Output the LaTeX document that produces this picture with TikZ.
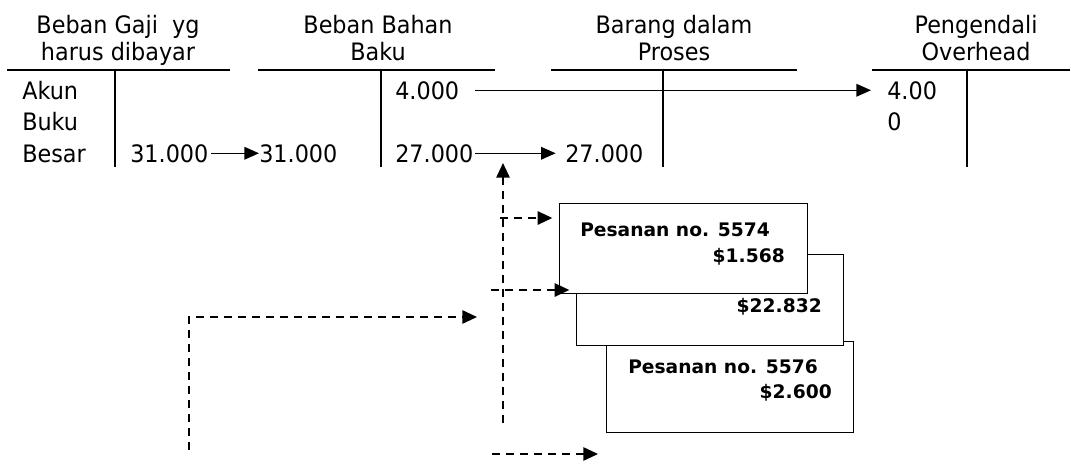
\documentclass[tikz,border=0pt]{standalone}
\usepackage{fontspec}
\setmainfont{DejaVu Sans}[FakeStretch=0.93]
\newfontfamily\jobfont{DejaVu Sans}
\usetikzlibrary{arrows.meta}

\tikzset{
  ledger/.style={line width=1pt},
  txt/.style={inner sep=0pt, anchor=base west, font=\fontsize{18pt}{20.25pt}\selectfont},
  title/.style={inner sep=0pt, anchor=base, align=center, font=\fontsize{18pt}{20.25pt}\selectfont},
  jobbox/.style={draw, fill=white, line width=1.1pt, anchor=north west, inner sep=0pt},
  jobtxt/.style={inner sep=0pt, font=\jobfont\bfseries\fontsize{14pt}{16pt}\selectfont},
  arr/.style={line width=1pt, -{Triangle[length=11pt,width=9.5pt]}},
  darr/.style={line width=1.3pt, dash pattern=on 6pt off 4.5pt, -{Triangle[length=11pt,width=10pt]}}
}

\begin{document}
\begin{tikzpicture}[x=0.75pt,y=-0.75pt]
\useasboundingbox (0,0) rectangle (1071,464);

% account titles (anchored on the baseline of their second line)
\node[title] (t1) at (118,60) {Beban Gaji\ \ yg\\harus dibayar};
\node[title] (t2) at (378,60) {Beban Bahan\\Baku};
\node[title] (t3) at (674,60) {Barang dalam\\Proses};
\node[title] (t4) at (976,60) {Pengendali\\Overhead};

% T-accounts
\draw[ledger] (7,70) -- (230,70);   \draw[ledger] (115,70) -- (115,167);
\draw[ledger] (258,70) -- (495,70); \draw[ledger] (381,70) -- (381,167);
\draw[ledger] (551,70) -- (797,70); \draw[ledger] (663,70) -- (663,167);
\draw[ledger] (872,70) -- (1070,70); \draw[ledger] (967,70) -- (967,167);

% row labels
\node[txt] (akun) at (22,99) {Akun};
\node[txt] (buku) at (22,130) {Buku};
\node[txt] (besar) at (22,162) {Besar};

% amounts
\node[txt] (g31) at (130,162) {31.000};
\node[txt] (b31) at (259,162) {31.000};
\node[txt] (b27) at (395,162) {27.000};
\node[txt] (p27) at (565,162) {27.000};
\node[txt] (b4) at (395,99) {4.000};
\node[txt] (o4) at (887,99) {4.00};
\node[txt] (o0) at (887,130) {0};

% transfers between accounts
\draw[arr, shorten <=2pt] (g31.east) -- (b31.west);
\draw[arr, shorten <=1pt, shorten >=7pt] (b27.east) -- (p27.west);
\draw[arr, shorten <=12pt, shorten >=12pt] (b4.east) -- (o4.west);

% job cost sheets
\node[jobbox, minimum width=185.25pt, minimum height=68.25pt] (job3) at (606,341) {};
\node[jobtxt, anchor=base west] (job3n) at (628,373) {Pesanan no. 5576};
\node[jobtxt, anchor=base east] (job3v) at (832,398) {\$2.600};

\node[jobbox, minimum width=200.25pt, minimum height=68.25pt] (job2) at (576,254) {};
\node[jobtxt, anchor=base east] (job2v) at (822,312) {\$22.832};

\node[jobbox, minimum width=186pt, minimum height=67.5pt] (job1) at (559,203) {};
\node[jobtxt, anchor=base west] (job1n) at (580,236) {Pesanan no. 5574};
\node[jobtxt, anchor=base east] (job1v) at (785,262) {\$1.568};

% dashed flows
\coordinate (vbot) at (503,423);
\coordinate (vtop) at (503,163);
\draw[darr] (vbot) -- (vtop);

\coordinate (h1) at (500,218);
\draw[darr, shorten >=5pt] (h1) -- (h1 -| job1.west);

\coordinate (h2) at (491,290);
\draw[darr, shorten >=5pt] (h2) -- (h2 -| job2.west);

\coordinate (h3) at (492,454);
\draw[darr, shorten >=6pt] (h3) -- (h3 -| job3.west);

\coordinate (lbot) at (189,450);
\coordinate (lend) at (477,317);
\draw[darr] (lbot) |- (lend);
\end{tikzpicture}
\end{document}
